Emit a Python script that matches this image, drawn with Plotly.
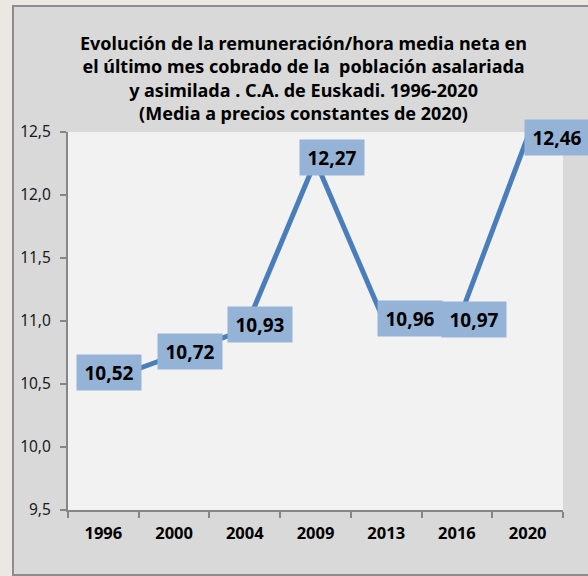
import plotly.graph_objects as go

years = ["1996", "2000", "2004", "2009", "2013", "2016", "2020"]
values = [10.52, 10.72, 10.93, 12.27, 10.96, 10.97, 12.46]
labels = ["10,52", "10,72", "10,93", "12,27", "10,96", "10,97", "12,46"]

title_lines = [
    "Evolución de la remuneración/hora media neta en",
    "el último mes cobrado de la\u00a0 población asalariada",
    "y asimilada . C.A. de Euskadi. 1996-2020",
    "(Media a precios constantes de 2020)",
]

# label box offsets (px) relative to the data point
label_dx = [6, 16, 15, 16, 24, 17, 29]
label_dy = [9, 5, 5, 3, 8, 5, 0]

W, H = 588, 576
L, R, T, B = 68, 25, 132, 66
pw, ph = W - L - R, H - T - B

fig = go.Figure()
fig.add_trace(go.Scatter(
    x=years, y=values, mode="lines",
    line=dict(color="#4a7ebb", width=5),
    hoverinfo="skip", showlegend=False,
))

font = "Noto Sans"
for i, (v, lab) in enumerate(zip(values, labels)):
    fig.add_annotation(
        x=i, y=v, xref="x", yref="y", text="<b>%s</b>" % lab,
        showarrow=False, xshift=label_dx[i], yshift=label_dy[i],
        bgcolor="#95b3d7", width=64, height=35, borderpad=0,
        font=dict(family=font, size=19, color="#000000"),
    )

fig.add_annotation(
    x=(303 - L) / pw, y=(510 - 78) / ph, xref="paper", yref="paper",
    text="<b>" + "<br>".join(title_lines) + "</b>", showarrow=False,
    xanchor="center", yanchor="middle", align="center",
    font=dict(family=font, size=18, color="#000000"),
)

# chart frame and plot area
fig.add_shape(type="rect", xref="paper", yref="paper", layer="below",
              x0=(13 - L) / pw, x1=(620 - L) / pw,
              y0=(510 - 575) / ph, y1=(510 - 6) / ph,
              fillcolor="#d9d9d9", line=dict(color="#8c8c8c", width=2))
fig.add_shape(type="rect", xref="paper", yref="paper", layer="below",
              x0=0, x1=1, y0=0, y1=1,
              fillcolor="#f2f2f2", line=dict(width=0))

fig.update_layout(
    width=W, height=H,
    margin=dict(l=L, r=R, t=T, b=B, pad=0),
    paper_bgcolor="#ebe8e3", plot_bgcolor="rgba(0,0,0,0)",
    separators=", ",
    showlegend=False,
)
fig.update_xaxes(
    type="category", range=[-0.5, len(years) - 0.5], autorange=False,
    tickson="boundaries", ticks="outside", ticklen=6,
    tickcolor="#868686", tickwidth=2, showline=True, linecolor="#868686",
    linewidth=2, showgrid=False, zeroline=False,
    tickfont=dict(family=font, size=16.5, color="#000000", weight="bold"),
    ticklabelstandoff=7, fixedrange=True,
)
fig.update_yaxes(
    range=[9.5, 12.5], autorange=False, dtick=0.5, tick0=9.5, tickformat=".1f",
    ticks="outside", ticklen=6, tickcolor="#868686", tickwidth=2,
    showline=True, linecolor="#868686", linewidth=2, showgrid=False,
    zeroline=False,
    tickfont=dict(family=font, size=15.5, color="#1a1a1a"),
    ticklabelstandoff=6, fixedrange=True,
)

fig.write_html(
    "out.html",
    config={"displayModeBar": False},
    post_script="document.body.style.margin='0';document.body.style.overflow='hidden';",
)
